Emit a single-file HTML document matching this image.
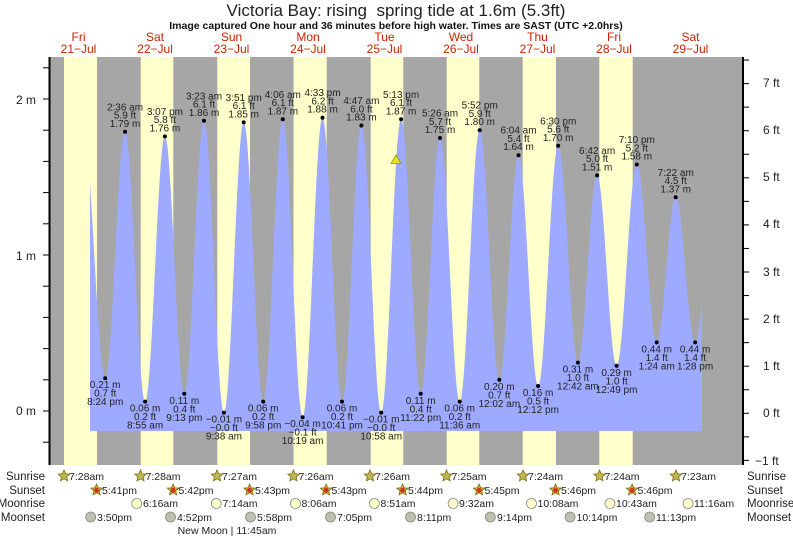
<!DOCTYPE html>
<html><head><meta charset="utf-8"><style>
html,body{margin:0;padding:0;background:#fff;}
svg{display:block;font-family:"Liberation Sans",sans-serif;}
.hl text,.lw text{font-size:10px;fill:#222;text-anchor:middle;}
.day{font-size:12px;fill:#cc2200;text-anchor:middle;}
.ev{font-size:10.5px;fill:#222;}
.rl{font-size:11.5px;fill:#222;}
</style></head><body>
<svg id="s" width="793" height="539" viewBox="0 0 793 539" xmlns="http://www.w3.org/2000/svg">
<text x="396" y="16" font-size="17" text-anchor="middle" fill="#222">Victoria Bay: rising &#160;spring tide at 1.6m (5.3ft)</text>
<text x="396" y="29" font-size="10.5" font-weight="bold" text-anchor="middle" fill="#111">Image captured One hour and 36 minutes before high water. Times are SAST (UTC +2.0hrs)</text>
<g>
<text class="day" x="78.5" y="41">Fri</text><text class="day" x="78.5" y="53">21−Jul</text>
<text class="day" x="155" y="41">Sat</text><text class="day" x="155" y="53">22−Jul</text>
<text class="day" x="231.5" y="41">Sun</text><text class="day" x="231.5" y="53">23−Jul</text>
<text class="day" x="308" y="41">Mon</text><text class="day" x="308" y="53">24−Jul</text>
<text class="day" x="384.5" y="41">Tue</text><text class="day" x="384.5" y="53">25−Jul</text>
<text class="day" x="461" y="41">Wed</text><text class="day" x="461" y="53">26−Jul</text>
<text class="day" x="537.5" y="41">Thu</text><text class="day" x="537.5" y="53">27−Jul</text>
<text class="day" x="614" y="41">Fri</text><text class="day" x="614" y="53">28−Jul</text>
<text class="day" x="690.5" y="41">Sat</text><text class="day" x="690.5" y="53">29−Jul</text>
</g>
<rect x="50" y="57" width="692" height="408" fill="#a6a6a6"/>
<g fill="#ffffcc">
<rect x="64" y="57" width="33" height="408"/>
<rect x="140.7" y="57" width="32.6" height="408"/>
<rect x="217.3" y="57" width="32.7" height="408"/>
<rect x="293.5" y="57" width="33.2" height="408"/>
<rect x="370.7" y="57" width="32.6" height="408"/>
<rect x="446.7" y="57" width="32.6" height="408"/>
<rect x="522.7" y="57" width="33.3" height="408"/>
<rect x="599.3" y="57" width="33.4" height="408"/>
</g>
<polygon id="tide" fill="#9eaaff" points=""/>
<g id="ticks" stroke="#000" stroke-width="1"></g>
<line x1="49.5" y1="57" x2="49.5" y2="465" stroke="#000" stroke-width="2"/>
<line x1="743" y1="57" x2="743" y2="465" stroke="#000" stroke-width="2"/>
<g font-size="12" fill="#222">
<text x="36" y="104" text-anchor="end">2 m</text>
<text x="36" y="260" text-anchor="end">1 m</text>
<text x="36" y="415" text-anchor="end">0 m</text>
<text x="763" y="87">7 ft</text>
<text x="763" y="134">6 ft</text>
<text x="763" y="181">5 ft</text>
<text x="763" y="228">4 ft</text>
<text x="763" y="276">3 ft</text>
<text x="763" y="323">2 ft</text>
<text x="763" y="370">1 ft</text>
<text x="763" y="417">0 ft</text>
<text x="755" y="465">−1 ft</text>
</g>
<polygon points="396,155 401,163.5 391,163.5" fill="#e8e020" stroke="#999900" stroke-width="0.8"/>
<g class="hl">
<g transform="translate(125,131.8)"><circle r="2"/><text y="-21.5">2:36 am</text><text y="-13.2">5.9 ft</text><text y="-5">1.79 m</text></g>
<g transform="translate(164.9,136.4)"><circle r="2"/><text y="-21.5">3:07 pm</text><text y="-13.2">5.8 ft</text><text y="-5">1.76 m</text></g>
<g transform="translate(204,120.8)"><circle r="2"/><text y="-21.5">3:23 am</text><text y="-13.2">6.1 ft</text><text y="-5">1.86 m</text></g>
<g transform="translate(243.7,122.4)"><circle r="2"/><text y="-21.5">3:51 pm</text><text y="-13.2">6.1 ft</text><text y="-5">1.85 m</text></g>
<g transform="translate(282.8,119.3)"><circle r="2"/><text y="-21.5">4:06 am</text><text y="-13.2">6.1 ft</text><text y="-5">1.87 m</text></g>
<g transform="translate(322.5,117.7)"><circle r="2"/><text y="-21.5">4:33 pm</text><text y="-13.2">6.2 ft</text><text y="-5">1.88 m</text></g>
<g transform="translate(361.4,125.5)"><circle r="2"/><text y="-21.5">4:47 am</text><text y="-13.2">6.0 ft</text><text y="-5">1.83 m</text></g>
<g transform="translate(401.1,119.3)"><circle r="2"/><text y="-21.5">5:13 pm</text><text y="-13.2">6.1 ft</text><text y="-5">1.87 m</text></g>
<g transform="translate(440,138)"><circle r="2"/><text y="-21.5">5:26 am</text><text y="-13.2">5.7 ft</text><text y="-5">1.75 m</text></g>
<g transform="translate(479.7,130.2)"><circle r="2"/><text y="-21.5">5:52 pm</text><text y="-13.2">5.9 ft</text><text y="-5">1.80 m</text></g>
<g transform="translate(518.5,155.2)"><circle r="2"/><text y="-21.5">6:04 am</text><text y="-13.2">5.4 ft</text><text y="-5">1.64 m</text></g>
<g transform="translate(558.2,145.8)"><circle r="2"/><text y="-21.5">6:30 pm</text><text y="-13.2">5.6 ft</text><text y="-5">1.70 m</text></g>
<g transform="translate(597.1,175.4)"><circle r="2"/><text y="-21.5">6:42 am</text><text y="-13.2">5.0 ft</text><text y="-5">1.51 m</text></g>
<g transform="translate(636.8,164.5)"><circle r="2"/><text y="-21.5">7:10 pm</text><text y="-13.2">5.2 ft</text><text y="-5">1.58 m</text></g>
<g transform="translate(675.7,197.3)"><circle r="2"/><text y="-21.5">7:22 am</text><text y="-13.2">4.5 ft</text><text y="-5">1.37 m</text></g>
</g>
<g class="lw">
<g transform="translate(105.2,378.2)"><circle r="2"/><text y="10">0.21 m</text><text y="18.5">0.7 ft</text><text y="27">8:24 pm</text></g>
<g transform="translate(145.1,401.6)"><circle r="2"/><text y="10">0.06 m</text><text y="18.5">0.2 ft</text><text y="27">8:55 am</text></g>
<g transform="translate(184.3,393.8)"><circle r="2"/><text y="10">0.11 m</text><text y="18.5">0.4 ft</text><text y="27">9:13 pm</text></g>
<g transform="translate(223.9,412.6)"><circle r="2"/><text y="10">−0.01 m</text><text y="18.5">−0.0 ft</text><text y="27">9:38 am</text></g>
<g transform="translate(263.2,401.6)"><circle r="2"/><text y="10">0.06 m</text><text y="18.5">0.2 ft</text><text y="27">9:58 pm</text></g>
<g transform="translate(302.6,417.2)"><circle r="2"/><text y="10">−0.04 m</text><text y="18.5">−0.1 ft</text><text y="27">10:19 am</text></g>
<g transform="translate(342,401.6)"><circle r="2"/><text y="10">0.06 m</text><text y="18.5">0.2 ft</text><text y="27">10:41 pm</text></g>
<g transform="translate(381.2,412.6)"><circle r="2"/><text y="10">−0.01 m</text><text y="18.5">−0.0 ft</text><text y="27">10:58 am</text></g>
<g transform="translate(420.7,393.8)"><circle r="2"/><text y="10">0.11 m</text><text y="18.5">0.4 ft</text><text y="27">11:22 pm</text></g>
<g transform="translate(459.7,401.6)"><circle r="2"/><text y="10">0.06 m</text><text y="18.5">0.2 ft</text><text y="27">11:36 am</text></g>
<g transform="translate(499.3,379.8)"><circle r="2"/><text y="10">0.20 m</text><text y="18.5">0.7 ft</text><text y="27">12:02 am</text></g>
<g transform="translate(538.1,386)"><circle r="2"/><text y="10">0.16 m</text><text y="18.5">0.5 ft</text><text y="27">12:12 pm</text></g>
<g transform="translate(577.9,362.6)"><circle r="2"/><text y="10">0.31 m</text><text y="18.5">1.0 ft</text><text y="27">12:42 am</text></g>
<g transform="translate(616.6,365.8)"><circle r="2"/><text y="10">0.29 m</text><text y="18.5">1.0 ft</text><text y="27">12:49 pm</text></g>
<g transform="translate(656.7,342.4)"><circle r="2"/><text y="10">0.44 m</text><text y="18.5">1.4 ft</text><text y="27">1:24 am</text></g>
<g transform="translate(695.1,342.4)"><circle r="2"/><text y="10">0.44 m</text><text y="18.5">1.4 ft</text><text y="27">1:28 pm</text></g>
</g>
<g class="rl">
<text x="45" y="480" text-anchor="end">Sunrise</text>
<text x="45" y="494" text-anchor="end">Sunset</text>
<text x="45" y="507" text-anchor="end">Moonrise</text>
<text x="45" y="521" text-anchor="end">Moonset</text>
<text x="747" y="480">Sunrise</text>
<text x="747" y="494">Sunset</text>
<text x="747" y="507">Moonrise</text>
<text x="747" y="521">Moonset</text>
</g>
<g id="icons"></g>
<g class="ev">
<text x="69" y="480">7:28am</text><text x="145.5" y="480">7:28am</text><text x="222" y="480">7:27am</text><text x="298.5" y="480">7:26am</text><text x="375" y="480">7:26am</text><text x="451.5" y="480">7:25am</text><text x="528" y="480">7:24am</text><text x="604.5" y="480">7:24am</text><text x="681" y="480">7:23am</text>
<text x="102" y="494">5:41pm</text><text x="178.5" y="494">5:42pm</text><text x="255" y="494">5:43pm</text><text x="331.5" y="494">5:43pm</text><text x="408" y="494">5:44pm</text><text x="484.5" y="494">5:45pm</text><text x="561" y="494">5:46pm</text><text x="637.5" y="494">5:46pm</text>
<text x="143" y="507">6:16am</text><text x="222.5" y="507">7:14am</text><text x="301.5" y="507">8:06am</text><text x="380.5" y="507">8:51am</text><text x="459" y="507">9:32am</text><text x="537.5" y="507">10:08am</text><text x="616" y="507">10:43am</text><text x="694" y="507">11:16am</text>
<text x="97" y="521">3:50pm</text><text x="177" y="521">4:52pm</text><text x="257" y="521">5:58pm</text><text x="337" y="521">7:05pm</text><text x="417" y="521">8:11pm</text><text x="497" y="521">9:14pm</text><text x="576.5" y="521">10:14pm</text><text x="656" y="521">11:13pm</text>
<text x="227" y="534" text-anchor="middle">New Moon | 11:45am</text>
</g>
</svg>
<script>
(function(){
var NS="http://www.w3.org/2000/svg";
function X(t){return 40.2+3.1875*t;}
function Y(h){return 411-156*h;}
var E=[[13.5,1.8],[20.4,0.21],[26.6,1.79],[32.917,0.06],[39.117,1.76],[45.217,0.11],[51.383,1.86],[57.633,-0.01],[63.85,1.85],[69.967,0.06],[76.1,1.87],[82.317,-0.04],[88.55,1.88],[94.683,0.06],[100.783,1.83],[106.967,-0.01],[113.217,1.87],[119.367,0.11],[125.433,1.75],[131.6,0.06],[137.867,1.80],[144.033,0.20],[150.067,1.64],[156.2,0.16],[162.5,1.70],[168.7,0.31],[174.7,1.51],[180.817,0.29],[187.167,1.58],[193.4,0.44],[199.367,1.37],[205.467,0.44],[211.6,1.42]];
function H(t){for(var i=0;i<E.length-1;i++){var a=E[i],b=E[i+1];if(t>=a[0]&&t<=b[0]){var f=(t-a[0])/(b[0]-a[0]);return a[1]+(b[1]-a[1])*(1-Math.cos(Math.PI*f))/2;}}return 0;}
var pts=["90,431"];
for(var x=90;x<=702;x+=0.5){var t=(x-40.2)/3.1875;pts.push(x+","+Y(H(t)).toFixed(2));}
pts.push("702,431");
document.getElementById("tide").setAttribute("points",pts.join(" "));
var g=document.getElementById("ticks");
function ln(x1,y1,x2,y2){var l=document.createElementNS(NS,"line");l.setAttribute("x1",x1);l.setAttribute("y1",y1);l.setAttribute("x2",x2);l.setAttribute("y2",y2);g.appendChild(l);}
for(var v=-0.2;v<=2.21;v+=0.2){var y=Y(v);ln(43,y,49,y);}
for(var f=-1;f<=7.51;f+=0.5){var y2=413.3-47.1*f;ln(743,y2,749,y2);}
var ic=document.getElementById("icons");
var star="0,-6 1.65,-2.27 5.71,-1.85 2.66,0.87 3.53,4.85 0,2.8 -3.53,4.85 -2.66,0.87 -5.71,-1.85 -1.65,-2.27";
function st(x,y,inner){var p=document.createElementNS(NS,"polygon");p.setAttribute("points",star);p.setAttribute("transform","translate("+x+","+y+")");p.setAttribute("fill","#c8b838");p.setAttribute("stroke","#7a6a10");p.setAttribute("stroke-width","0.8");ic.appendChild(p);var c=document.createElementNS(NS,"circle");c.setAttribute("cx",x);c.setAttribute("cy",y+0.3);c.setAttribute("r",2.4);c.setAttribute("fill",inner);ic.appendChild(c);}
function ci(x,y,fill){var c=document.createElementNS(NS,"circle");c.setAttribute("cx",x);c.setAttribute("cy",y);c.setAttribute("r",5);c.setAttribute("fill",fill);c.setAttribute("stroke","#888");c.setAttribute("stroke-width","0.8");ic.appendChild(c);}
for(var k=0;k<9;k++)st(64+76.5*k,476,"#b8b860");
for(var k=0;k<8;k++)st(96.6+76.5*k,490,"#d83020");
[136.7,216.3,295.5,374.4,453.1,531.5,609.9,688.1].forEach(function(x){ci(x,503.5,"#ffffcc");});
[90.7,170.5,250.5,330.5,410.5,490.4,570.1,649.7].forEach(function(x){ci(x,517,"#c0c0b0");});
})();
</script>
</body></html>
